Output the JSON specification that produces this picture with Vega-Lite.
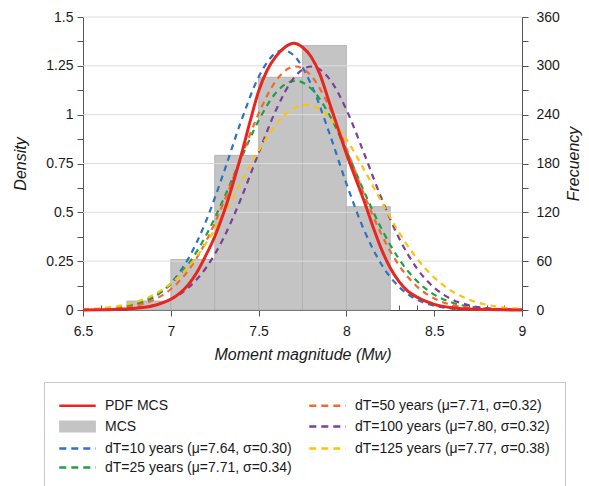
{
  "$schema": "https://vega.github.io/schema/vega-lite/v6.json",
  "width": 439,
  "height": 293,
  "autosize": {"type": "none"},
  "padding": {"left": 83, "top": 17, "right": 67, "bottom": 176},
  "config": {
    "font": "Liberation Sans",
    "view": {"stroke": null},
    "axis": {
      "labelFont": "Liberation Sans",
      "titleFont": "Liberation Sans",
      "labelFontSize": 14,
      "titleFontSize": 16,
      "titleFontStyle": "italic",
      "titleFontWeight": "normal",
      "labelColor": "#1a1a1a",
      "titleColor": "#1a1a1a",
      "domainColor": "#555555",
      "tickColor": "#555555",
      "labelOverlap": false,
      "labelFlush": false
    },
    "legend": {
      "title": null, "orient": "none", "legendX": -39, "legendY": 365, "columns": 2,
      "symbolSize": 196, "symbolStrokeWidth": 2.5, "symbolOffset": 10,
      "labelFont": "Liberation Sans", "labelFontSize": 14, "labelColor": "#1a1a1a",
      "labelOffset": 19, "labelLimit": 400,
      "rowPadding": 3, "columnPadding": 12, "padding": 15,
      "strokeColor": "#c8c8c8", "fillColor": "#ffffff"
    }
  },
  "resolve": {
    "scale": {"y": "independent"},
    "axis": {"x": "independent", "y": "independent"}
  },
  "layer": [
    {
      "data": {"values": [
        {"start": 6.75, "end": 7.0, "count": 11, "series": "MCS"},
        {"start": 7.0, "end": 7.25, "count": 62, "series": "MCS"},
        {"start": 7.25, "end": 7.5, "count": 190, "series": "MCS"},
        {"start": 7.5, "end": 7.75, "count": 286, "series": "MCS"},
        {"start": 7.75, "end": 8.0, "count": 325, "series": "MCS"},
        {"start": 8.0, "end": 8.25, "count": 127, "series": "MCS"}
      ]},
      "mark": {"type": "rect", "stroke": "#adadad", "strokeWidth": 0.8, "opacity": 1},
      "encoding": {
        "x": {"field": "start", "type": "quantitative",
          "scale": {"domain": [6.5, 9], "nice": false, "zero": false},
          "axis": {"orient": "bottom", "values": [6.5, 7, 7.5, 8, 8.5, 9], "labelExpr": "'' + datum.value",
            "title": "Moment magnitude (Mw)", "grid": false, "tickSize": 6, "labelPadding": 8, "titlePadding": 8}},
        "x2": {"field": "end"},
        "y": {"field": "count", "type": "quantitative",
          "scale": {"domain": [0, 360], "nice": false},
          "axis": {"orient": "right", "values": [0, 30, 60, 90, 120, 150, 180, 210, 240, 270, 300, 330, 360],
            "labelExpr": "datum.value % 60 === 0 ? '' + datum.value : ''",
            "title": "Frecuency", "titleAngle": 270, "titleBaseline": "top",
            "grid": false, "tickSize": 6, "labelPadding": 8, "titlePadding": 6}},
        "y2": {"datum": 0},
        "color": {"field": "series", "type": "nominal",
          "scale": {
            "domain": ["PDF MCS", "MCS", "dT=10 years (μ=7.64, σ=0.30)", "dT=25 years (μ=7.71, σ=0.34)", "dT=50 years (μ=7.71, σ=0.32)", "dT=100 years (μ=7.80, σ=0.32)", "dT=125 years (μ=7.77, σ=0.38)"],
            "range": ["#e8251f", "#c4c4c4", "#2f72c4", "#1fa044", "#f26a2a", "#7e3f98", "#fcc30b"]
          },
          "legend": {
            "encode": {"symbols": {"update": {
              "shape": {"signal": "datum.value === 'MCS' ? 'M-2.45,-0.68H2.45V0.68H-2.45Z' : 'M-2.6,0H2.6'"},
              "fill": {"signal": "datum.value === 'MCS' ? '#c4c4c4' : 'transparent'"},
              "stroke": {"scale": "color", "field": "value"},
              "strokeDash": {"signal": "(datum.value === 'PDF MCS' || datum.value === 'MCS') ? [1, 0] : [7, 5]"}
            }}}
          }
        }
      }
    },
    {
      "data": {"values": [{"g": 0.25}, {"g": 0.5}, {"g": 0.75}, {"g": 1.0}, {"g": 1.25}, {"g": 1.5}]},
      "mark": {"type": "rule", "color": "#dcdcdc", "strokeWidth": 1},
      "encoding": {
        "y": {"field": "g", "type": "quantitative",
          "scale": {"domain": [0, 1.5], "nice": false},
          "axis": {"orient": "left", "values": [0, 0.125, 0.25, 0.375, 0.5, 0.625, 0.75, 0.875, 1, 1.125, 1.25, 1.375, 1.5],
            "labelExpr": "(datum.value * 4) % 1 === 0 ? '' + datum.value : ''",
            "title": "Density", "grid": false, "tickSize": 6, "labelPadding": 4, "titlePadding": 17}}
      }
    },
    {
      "data": {"values": [
        {"x": 6.5, "d": 0.001, "s": "dT=10 years (μ=7.64, σ=0.30)"},
        {"x": 6.6, "d": 0.0033, "s": "dT=10 years (μ=7.64, σ=0.30)"},
        {"x": 6.7, "d": 0.0098, "s": "dT=10 years (μ=7.64, σ=0.30)"},
        {"x": 6.8, "d": 0.0264, "s": "dT=10 years (μ=7.64, σ=0.30)"},
        {"x": 6.9, "d": 0.0635, "s": "dT=10 years (μ=7.64, σ=0.30)"},
        {"x": 7.0, "d": 0.1366, "s": "dT=10 years (μ=7.64, σ=0.30)"},
        {"x": 7.1, "d": 0.2632, "s": "dT=10 years (μ=7.64, σ=0.30)"},
        {"x": 7.2, "d": 0.4536, "s": "dT=10 years (μ=7.64, σ=0.30)"},
        {"x": 7.3, "d": 0.6997, "s": "dT=10 years (μ=7.64, σ=0.30)"},
        {"x": 7.4, "d": 0.9656, "s": "dT=10 years (μ=7.64, σ=0.30)"},
        {"x": 7.5, "d": 1.1926, "s": "dT=10 years (μ=7.64, σ=0.30)"},
        {"x": 7.6, "d": 1.318, "s": "dT=10 years (μ=7.64, σ=0.30)"},
        {"x": 7.64, "d": 1.3298, "s": "dT=10 years (μ=7.64, σ=0.30)"},
        {"x": 7.7, "d": 1.3035, "s": "dT=10 years (μ=7.64, σ=0.30)"},
        {"x": 7.8, "d": 1.1535, "s": "dT=10 years (μ=7.64, σ=0.30)"},
        {"x": 7.9, "d": 0.9135, "s": "dT=10 years (μ=7.64, σ=0.30)"},
        {"x": 8.0, "d": 0.6473, "s": "dT=10 years (μ=7.64, σ=0.30)"},
        {"x": 8.1, "d": 0.4104, "s": "dT=10 years (μ=7.64, σ=0.30)"},
        {"x": 8.2, "d": 0.2329, "s": "dT=10 years (μ=7.64, σ=0.30)"},
        {"x": 8.3, "d": 0.1183, "s": "dT=10 years (μ=7.64, σ=0.30)"},
        {"x": 8.4, "d": 0.0537, "s": "dT=10 years (μ=7.64, σ=0.30)"},
        {"x": 8.5, "d": 0.0219, "s": "dT=10 years (μ=7.64, σ=0.30)"},
        {"x": 8.6, "d": 0.008, "s": "dT=10 years (μ=7.64, σ=0.30)"},
        {"x": 8.7, "d": 0.0026, "s": "dT=10 years (μ=7.64, σ=0.30)"},
        {"x": 8.8, "d": 0.0008, "s": "dT=10 years (μ=7.64, σ=0.30)"},
        {"x": 8.9, "d": 0.0002, "s": "dT=10 years (μ=7.64, σ=0.30)"},
        {"x": 9.0, "d": 0.0, "s": "dT=10 years (μ=7.64, σ=0.30)"},

        {"x": 6.5, "d": 0.0021, "s": "dT=25 years (μ=7.71, σ=0.34)"},
        {"x": 6.6, "d": 0.0057, "s": "dT=25 years (μ=7.71, σ=0.34)"},
        {"x": 6.7, "d": 0.0142, "s": "dT=25 years (μ=7.71, σ=0.34)"},
        {"x": 6.8, "d": 0.0327, "s": "dT=25 years (μ=7.71, σ=0.34)"},
        {"x": 6.9, "d": 0.0687, "s": "dT=25 years (μ=7.71, σ=0.34)"},
        {"x": 7.0, "d": 0.1326, "s": "dT=25 years (μ=7.71, σ=0.34)"},
        {"x": 7.1, "d": 0.2347, "s": "dT=25 years (μ=7.71, σ=0.34)"},
        {"x": 7.2, "d": 0.3809, "s": "dT=25 years (μ=7.71, σ=0.34)"},
        {"x": 7.3, "d": 0.5671, "s": "dT=25 years (μ=7.71, σ=0.34)"},
        {"x": 7.4, "d": 0.7743, "s": "dT=25 years (μ=7.71, σ=0.34)"},
        {"x": 7.5, "d": 0.9696, "s": "dT=25 years (μ=7.71, σ=0.34)"},
        {"x": 7.6, "d": 1.1135, "s": "dT=25 years (μ=7.71, σ=0.34)"},
        {"x": 7.71, "d": 1.1734, "s": "dT=25 years (μ=7.71, σ=0.34)"},
        {"x": 7.8, "d": 1.133, "s": "dT=25 years (μ=7.71, σ=0.34)"},
        {"x": 7.9, "d": 1.0037, "s": "dT=25 years (μ=7.71, σ=0.34)"},
        {"x": 8.0, "d": 0.8156, "s": "dT=25 years (μ=7.71, σ=0.34)"},
        {"x": 8.1, "d": 0.6078, "s": "dT=25 years (μ=7.71, σ=0.34)"},
        {"x": 8.2, "d": 0.4154, "s": "dT=25 years (μ=7.71, σ=0.34)"},
        {"x": 8.3, "d": 0.2603, "s": "dT=25 years (μ=7.71, σ=0.34)"},
        {"x": 8.4, "d": 0.1496, "s": "dT=25 years (μ=7.71, σ=0.34)"},
        {"x": 8.5, "d": 0.0789, "s": "dT=25 years (μ=7.71, σ=0.34)"},
        {"x": 8.6, "d": 0.0382, "s": "dT=25 years (μ=7.71, σ=0.34)"},
        {"x": 8.7, "d": 0.0169, "s": "dT=25 years (μ=7.71, σ=0.34)"},
        {"x": 8.8, "d": 0.0069, "s": "dT=25 years (μ=7.71, σ=0.34)"},
        {"x": 8.9, "d": 0.0026, "s": "dT=25 years (μ=7.71, σ=0.34)"},
        {"x": 9.0, "d": 0.0009, "s": "dT=25 years (μ=7.71, σ=0.34)"},

        {"x": 6.5, "d": 0.001, "s": "dT=50 years (μ=7.71, σ=0.32)"},
        {"x": 6.6, "d": 0.003, "s": "dT=50 years (μ=7.71, σ=0.32)"},
        {"x": 6.7, "d": 0.0086, "s": "dT=50 years (μ=7.71, σ=0.32)"},
        {"x": 6.8, "d": 0.0219, "s": "dT=50 years (μ=7.71, σ=0.32)"},
        {"x": 6.9, "d": 0.0506, "s": "dT=50 years (μ=7.71, σ=0.32)"},
        {"x": 7.0, "d": 0.1064, "s": "dT=50 years (μ=7.71, σ=0.32)"},
        {"x": 7.1, "d": 0.2026, "s": "dT=50 years (μ=7.71, σ=0.32)"},
        {"x": 7.2, "d": 0.3501, "s": "dT=50 years (μ=7.71, σ=0.32)"},
        {"x": 7.3, "d": 0.5487, "s": "dT=50 years (μ=7.71, σ=0.32)"},
        {"x": 7.4, "d": 0.7798, "s": "dT=50 years (μ=7.71, σ=0.32)"},
        {"x": 7.5, "d": 1.0052, "s": "dT=50 years (μ=7.71, σ=0.32)"},
        {"x": 7.6, "d": 1.1752, "s": "dT=50 years (μ=7.71, σ=0.32)"},
        {"x": 7.71, "d": 1.2467, "s": "dT=50 years (μ=7.71, σ=0.32)"},
        {"x": 7.8, "d": 1.1983, "s": "dT=50 years (μ=7.71, σ=0.32)"},
        {"x": 7.9, "d": 1.0452, "s": "dT=50 years (μ=7.71, σ=0.32)"},
        {"x": 8.0, "d": 0.8269, "s": "dT=50 years (μ=7.71, σ=0.32)"},
        {"x": 8.1, "d": 0.5932, "s": "dT=50 years (μ=7.71, σ=0.32)"},
        {"x": 8.2, "d": 0.386, "s": "dT=50 years (μ=7.71, σ=0.32)"},
        {"x": 8.3, "d": 0.2279, "s": "dT=50 years (μ=7.71, σ=0.32)"},
        {"x": 8.4, "d": 0.1219, "s": "dT=50 years (μ=7.71, σ=0.32)"},
        {"x": 8.5, "d": 0.0592, "s": "dT=50 years (μ=7.71, σ=0.32)"},
        {"x": 8.6, "d": 0.0261, "s": "dT=50 years (μ=7.71, σ=0.32)"},
        {"x": 8.7, "d": 0.0104, "s": "dT=50 years (μ=7.71, σ=0.32)"},
        {"x": 8.8, "d": 0.0038, "s": "dT=50 years (μ=7.71, σ=0.32)"},
        {"x": 8.9, "d": 0.0012, "s": "dT=50 years (μ=7.71, σ=0.32)"},
        {"x": 9.0, "d": 0.0004, "s": "dT=50 years (μ=7.71, σ=0.32)"},

        {"x": 6.5, "d": 0.0003, "s": "dT=100 years (μ=7.80, σ=0.32)"},
        {"x": 6.6, "d": 0.0011, "s": "dT=100 years (μ=7.80, σ=0.32)"},
        {"x": 6.7, "d": 0.0034, "s": "dT=100 years (μ=7.80, σ=0.32)"},
        {"x": 6.8, "d": 0.0094, "s": "dT=100 years (μ=7.80, σ=0.32)"},
        {"x": 6.9, "d": 0.0239, "s": "dT=100 years (μ=7.80, σ=0.32)"},
        {"x": 7.0, "d": 0.0548, "s": "dT=100 years (μ=7.80, σ=0.32)"},
        {"x": 7.1, "d": 0.114, "s": "dT=100 years (μ=7.80, σ=0.32)"},
        {"x": 7.2, "d": 0.215, "s": "dT=100 years (μ=7.80, σ=0.32)"},
        {"x": 7.3, "d": 0.3678, "s": "dT=100 years (μ=7.80, σ=0.32)"},
        {"x": 7.4, "d": 0.5708, "s": "dT=100 years (μ=7.80, σ=0.32)"},
        {"x": 7.5, "d": 0.8034, "s": "dT=100 years (μ=7.80, σ=0.32)"},
        {"x": 7.6, "d": 1.0255, "s": "dT=100 years (μ=7.80, σ=0.32)"},
        {"x": 7.7, "d": 1.1873, "s": "dT=100 years (μ=7.80, σ=0.32)"},
        {"x": 7.8, "d": 1.2467, "s": "dT=100 years (μ=7.80, σ=0.32)"},
        {"x": 7.9, "d": 1.1873, "s": "dT=100 years (μ=7.80, σ=0.32)"},
        {"x": 8.0, "d": 1.0255, "s": "dT=100 years (μ=7.80, σ=0.32)"},
        {"x": 8.1, "d": 0.8034, "s": "dT=100 years (μ=7.80, σ=0.32)"},
        {"x": 8.2, "d": 0.5708, "s": "dT=100 years (μ=7.80, σ=0.32)"},
        {"x": 8.3, "d": 0.3678, "s": "dT=100 years (μ=7.80, σ=0.32)"},
        {"x": 8.4, "d": 0.215, "s": "dT=100 years (μ=7.80, σ=0.32)"},
        {"x": 8.5, "d": 0.114, "s": "dT=100 years (μ=7.80, σ=0.32)"},
        {"x": 8.6, "d": 0.0548, "s": "dT=100 years (μ=7.80, σ=0.32)"},
        {"x": 8.7, "d": 0.0239, "s": "dT=100 years (μ=7.80, σ=0.32)"},
        {"x": 8.8, "d": 0.0094, "s": "dT=100 years (μ=7.80, σ=0.32)"},
        {"x": 8.9, "d": 0.0034, "s": "dT=100 years (μ=7.80, σ=0.32)"},
        {"x": 9.0, "d": 0.0011, "s": "dT=100 years (μ=7.80, σ=0.32)"},

        {"x": 6.5, "d": 0.0039, "s": "dT=125 years (μ=7.77, σ=0.38)"},
        {"x": 6.6, "d": 0.0092, "s": "dT=125 years (μ=7.77, σ=0.38)"},
        {"x": 6.7, "d": 0.0199, "s": "dT=125 years (μ=7.77, σ=0.38)"},
        {"x": 6.8, "d": 0.0404, "s": "dT=125 years (μ=7.77, σ=0.38)"},
        {"x": 6.9, "d": 0.0764, "s": "dT=125 years (μ=7.77, σ=0.38)"},
        {"x": 7.0, "d": 0.1348, "s": "dT=125 years (μ=7.77, σ=0.38)"},
        {"x": 7.1, "d": 0.2219, "s": "dT=125 years (μ=7.77, σ=0.38)"},
        {"x": 7.2, "d": 0.3408, "s": "dT=125 years (μ=7.77, σ=0.38)"},
        {"x": 7.3, "d": 0.4886, "s": "dT=125 years (μ=7.77, σ=0.38)"},
        {"x": 7.4, "d": 0.6535, "s": "dT=125 years (μ=7.77, σ=0.38)"},
        {"x": 7.5, "d": 0.8156, "s": "dT=125 years (μ=7.77, σ=0.38)"},
        {"x": 7.6, "d": 0.9499, "s": "dT=125 years (μ=7.77, σ=0.38)"},
        {"x": 7.7, "d": 1.0322, "s": "dT=125 years (μ=7.77, σ=0.38)"},
        {"x": 7.77, "d": 1.0499, "s": "dT=125 years (μ=7.77, σ=0.38)"},
        {"x": 7.8, "d": 1.0466, "s": "dT=125 years (μ=7.77, σ=0.38)"},
        {"x": 7.9, "d": 0.9902, "s": "dT=125 years (μ=7.77, σ=0.38)"},
        {"x": 8.0, "d": 0.8741, "s": "dT=125 years (μ=7.77, σ=0.38)"},
        {"x": 8.1, "d": 0.7201, "s": "dT=125 years (μ=7.77, σ=0.38)"},
        {"x": 8.2, "d": 0.5534, "s": "dT=125 years (μ=7.77, σ=0.38)"},
        {"x": 8.3, "d": 0.3969, "s": "dT=125 years (μ=7.77, σ=0.38)"},
        {"x": 8.4, "d": 0.2656, "s": "dT=125 years (μ=7.77, σ=0.38)"},
        {"x": 8.5, "d": 0.1659, "s": "dT=125 years (μ=7.77, σ=0.38)"},
        {"x": 8.6, "d": 0.0967, "s": "dT=125 years (μ=7.77, σ=0.38)"},
        {"x": 8.7, "d": 0.0526, "s": "dT=125 years (μ=7.77, σ=0.38)"},
        {"x": 8.8, "d": 0.0267, "s": "dT=125 years (μ=7.77, σ=0.38)"},
        {"x": 8.9, "d": 0.0126, "s": "dT=125 years (μ=7.77, σ=0.38)"},
        {"x": 9.0, "d": 0.0056, "s": "dT=125 years (μ=7.77, σ=0.38)"}
      ]},
      "mark": {"type": "line", "strokeDash": [6, 5], "strokeWidth": 2.2, "interpolate": "monotone"},
      "encoding": {
        "x": {"field": "x", "type": "quantitative",
          "scale": {"domain": [6.5, 9], "nice": false, "zero": false},
          "axis": {"orient": "bottom", "values": [6.6, 6.7, 6.8, 6.9, 7.1, 7.2, 7.3, 7.4, 7.6, 7.7, 7.8, 7.9, 8.1, 8.2, 8.3, 8.4, 8.6, 8.7, 8.8, 8.9],
            "tickSize": -5, "labels": false, "domain": false, "grid": false, "title": null}},
        "y": {"field": "d", "type": "quantitative", "scale": {"domain": [0, 1.5], "nice": false}, "axis": null},
        "color": {"field": "s", "type": "nominal",
          "scale": {
            "domain": ["PDF MCS", "MCS", "dT=10 years (μ=7.64, σ=0.30)", "dT=25 years (μ=7.71, σ=0.34)", "dT=50 years (μ=7.71, σ=0.32)", "dT=100 years (μ=7.80, σ=0.32)", "dT=125 years (μ=7.77, σ=0.38)"],
            "range": ["#e8251f", "#c4c4c4", "#2f72c4", "#1fa044", "#f26a2a", "#7e3f98", "#fcc30b"]
          },
          "legend": {
            "encode": {"symbols": {"update": {
              "shape": {"signal": "datum.value === 'MCS' ? 'M-2.45,-0.68H2.45V0.68H-2.45Z' : 'M-2.6,0H2.6'"},
              "fill": {"signal": "datum.value === 'MCS' ? '#c4c4c4' : 'transparent'"},
              "stroke": {"scale": "color", "field": "value"},
              "strokeDash": {"signal": "(datum.value === 'PDF MCS' || datum.value === 'MCS') ? [1, 0] : [7, 5]"}
            }}}
          }
        }
      }
    },
    {
      "data": {"values": [
        {"x": 6.5, "d": 0.0005, "s": "PDF MCS"},
        {"x": 6.6, "d": 0.0015, "s": "PDF MCS"},
        {"x": 6.7, "d": 0.004, "s": "PDF MCS"},
        {"x": 6.8, "d": 0.009, "s": "PDF MCS"},
        {"x": 6.9, "d": 0.022, "s": "PDF MCS"},
        {"x": 6.95, "d": 0.036, "s": "PDF MCS"},
        {"x": 7.0, "d": 0.055, "s": "PDF MCS"},
        {"x": 7.05, "d": 0.085, "s": "PDF MCS"},
        {"x": 7.1, "d": 0.13, "s": "PDF MCS"},
        {"x": 7.15, "d": 0.195, "s": "PDF MCS"},
        {"x": 7.2, "d": 0.28, "s": "PDF MCS"},
        {"x": 7.25, "d": 0.375, "s": "PDF MCS"},
        {"x": 7.3, "d": 0.495, "s": "PDF MCS"},
        {"x": 7.35, "d": 0.635, "s": "PDF MCS"},
        {"x": 7.4, "d": 0.79, "s": "PDF MCS"},
        {"x": 7.45, "d": 0.96, "s": "PDF MCS"},
        {"x": 7.5, "d": 1.12, "s": "PDF MCS"},
        {"x": 7.55, "d": 1.23, "s": "PDF MCS"},
        {"x": 7.6, "d": 1.3, "s": "PDF MCS"},
        {"x": 7.65, "d": 1.345, "s": "PDF MCS"},
        {"x": 7.7, "d": 1.365, "s": "PDF MCS"},
        {"x": 7.75, "d": 1.345, "s": "PDF MCS"},
        {"x": 7.8, "d": 1.295, "s": "PDF MCS"},
        {"x": 7.85, "d": 1.205, "s": "PDF MCS"},
        {"x": 7.9, "d": 1.07, "s": "PDF MCS"},
        {"x": 7.95, "d": 0.935, "s": "PDF MCS"},
        {"x": 8.0, "d": 0.8, "s": "PDF MCS"},
        {"x": 8.05, "d": 0.68, "s": "PDF MCS"},
        {"x": 8.1, "d": 0.56, "s": "PDF MCS"},
        {"x": 8.15, "d": 0.43, "s": "PDF MCS"},
        {"x": 8.2, "d": 0.31, "s": "PDF MCS"},
        {"x": 8.25, "d": 0.215, "s": "PDF MCS"},
        {"x": 8.3, "d": 0.145, "s": "PDF MCS"},
        {"x": 8.35, "d": 0.097, "s": "PDF MCS"},
        {"x": 8.4, "d": 0.067, "s": "PDF MCS"},
        {"x": 8.45, "d": 0.045, "s": "PDF MCS"},
        {"x": 8.5, "d": 0.029, "s": "PDF MCS"},
        {"x": 8.6, "d": 0.012, "s": "PDF MCS"},
        {"x": 8.7, "d": 0.005, "s": "PDF MCS"},
        {"x": 8.8, "d": 0.002, "s": "PDF MCS"},
        {"x": 8.9, "d": 0.0007, "s": "PDF MCS"},
        {"x": 9.0, "d": 0.0002, "s": "PDF MCS"}
      ]},
      "mark": {"type": "line", "strokeWidth": 3, "interpolate": "monotone"},
      "encoding": {
        "x": {"field": "x", "type": "quantitative", "scale": {"domain": [6.5, 9], "nice": false, "zero": false}, "axis": null},
        "y": {"field": "d", "type": "quantitative", "scale": {"domain": [0, 1.5], "nice": false}, "axis": null},
        "color": {"field": "s", "type": "nominal",
          "scale": {
            "domain": ["PDF MCS", "MCS", "dT=10 years (μ=7.64, σ=0.30)", "dT=25 years (μ=7.71, σ=0.34)", "dT=50 years (μ=7.71, σ=0.32)", "dT=100 years (μ=7.80, σ=0.32)", "dT=125 years (μ=7.77, σ=0.38)"],
            "range": ["#e8251f", "#c4c4c4", "#2f72c4", "#1fa044", "#f26a2a", "#7e3f98", "#fcc30b"]
          },
          "legend": {
            "encode": {"symbols": {"update": {
              "shape": {"signal": "datum.value === 'MCS' ? 'M-2.45,-0.68H2.45V0.68H-2.45Z' : 'M-2.6,0H2.6'"},
              "fill": {"signal": "datum.value === 'MCS' ? '#c4c4c4' : 'transparent'"},
              "stroke": {"scale": "color", "field": "value"},
              "strokeDash": {"signal": "(datum.value === 'PDF MCS' || datum.value === 'MCS') ? [1, 0] : [7, 5]"}
            }}}
          }
        }
      }
    }
  ]
}
